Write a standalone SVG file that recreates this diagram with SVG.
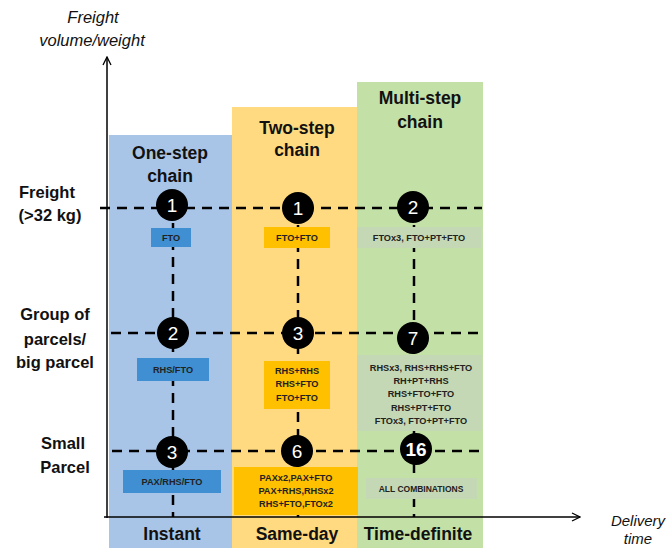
<svg xmlns="http://www.w3.org/2000/svg" width="670" height="548" viewBox="0 0 670 548">
<defs>
<marker id="arr" viewBox="0 0 10 10" refX="9" refY="5" markerWidth="10" markerHeight="10" markerUnits="userSpaceOnUse" orient="auto">
<path d="M1,1 L9,5 L1,9" fill="none" stroke="#000" stroke-width="1.3"/>
</marker>
<style>
text{font-family:"Liberation Sans",Arial,sans-serif;}
.title{font-size:17.5px;font-weight:bold;fill:#111;text-anchor:middle;}
.row{font-size:16.5px;font-weight:bold;fill:#111;text-anchor:middle;}
.ax{font-size:16.5px;font-style:italic;fill:#111;text-anchor:middle;}
.ax2{font-size:15px;font-style:italic;fill:#111;text-anchor:middle;}
.lbl{font-size:9.2px;font-weight:bold;fill:#222;text-anchor:middle;}
.num{font-size:19px;fill:#fff;text-anchor:middle;}
.dash{stroke:#000;stroke-width:2.5;stroke-dasharray:10 7;fill:none;}
.axis{stroke:#000;stroke-width:1.5;fill:none;}
.circ{fill:#000;}
.bb{fill:#3F8FD2;}
.ob{fill:#FFC000;}
.gb{fill:#C5D8B5;}
</style>
</defs>
<rect width="670" height="548" fill="#fff"/>
<g id="columns">
<rect id="col-one" x="109" y="135" width="123" height="413" fill="#A8C5E8"/>
<rect id="col-two" x="232" y="107" width="125" height="441" fill="#FFDA80"/>
<rect id="col-multi" x="357" y="82" width="126" height="466" fill="#C3E0A7"/>
</g>
<g id="titles">
<text class="title" x="170" y="159">One-step</text>
<text class="title" x="170" y="182">chain</text>
<text class="title" x="297" y="134">Two-step</text>
<text class="title" x="297" y="156">chain</text>
<text class="title" x="420" y="104">Multi-step</text>
<text class="title" x="420" y="128">chain</text>
<text class="title" x="172" y="540">Instant</text>
<text class="title" x="297" y="540">Same-day</text>
<text class="title" x="418" y="540">Time-definite</text>
</g>
<g id="row-labels">
<text class="row" x="47" y="198">Freight</text>
<text class="row" x="50" y="221">(&gt;32 kg)</text>
<text class="row" x="55" y="320">Group of</text>
<text class="row" x="55" y="345">parcels/</text>
<text class="row" x="55" y="368">big parcel</text>
<text class="row" x="63" y="449">Small</text>
<text class="row" x="65" y="473">Parcel</text>
</g>
<g id="axis-labels">
<text class="ax" x="93" y="23">Freight</text>
<text class="ax" x="92" y="46">volume/weight</text>
<text class="ax2" x="638" y="526">Delivery</text>
<text class="ax2" x="638" y="544">time</text>
</g>
<g id="connectors">
<line class="dash" x1="100" y1="208" x2="482" y2="208"/>
<line class="dash" x1="111" y1="333" x2="482" y2="333"/>
<line class="dash" x1="112" y1="451" x2="485" y2="451"/>
<line class="dash" x1="173" y1="206" x2="173" y2="517"/>
<line class="dash" x1="298" y1="208" x2="298" y2="517"/>
<line class="dash" x1="414" y1="208" x2="414" y2="517"/>
<line class="axis" x1="107" y1="518" x2="107" y2="57" marker-end="url(#arr)"/>
<line class="axis" x1="104" y1="517" x2="580" y2="517" marker-end="url(#arr)"/>
</g>
<g id="boxes">
<g id="box-fto"><rect class="bb" x="151" y="228" width="40" height="19"/><text class="lbl" x="171" y="241">FTO</text></g>
<g id="box-ftofto"><rect class="ob" x="264" y="227" width="66" height="21"/><text class="lbl" x="297" y="241">FTO+FTO</text></g>
<g id="box-ftox3"><rect class="gb" x="357" y="227" width="124" height="21"/><text class="lbl" x="419" y="241">FTOx3, FTO+PT+FTO</text></g>
<g id="box-rhsfto"><rect class="bb" x="137" y="358" width="72" height="23"/><text class="lbl" x="173" y="373">RHS/FTO</text></g>
<g id="box-rhsrhs"><rect class="ob" x="264" y="361" width="66" height="48"/>
<text class="lbl" x="297" y="374">RHS+RHS</text><text class="lbl" x="297" y="387">RHS+FTO</text><text class="lbl" x="297" y="401">FTO+FTO</text></g>
<g id="box-rhsx3"><rect class="gb" x="357" y="355" width="125" height="76"/>
<text class="lbl" x="421" y="371">RHSx3, RHS+RHS+FTO</text><text class="lbl" x="421" y="384">RH+PT+RHS</text><text class="lbl" x="421" y="397">RHS+FTO+FTO</text><text class="lbl" x="421" y="411">RHS+PT+FTO</text><text class="lbl" x="421" y="424">FTOx3, FTO+PT+FTO</text></g>
<g id="box-pax"><rect class="bb" x="123" y="470" width="98" height="23"/><text class="lbl" x="172" y="485">PAX/RHS/FTO</text></g>
<g id="box-paxx2"><rect class="ob" x="234" y="467" width="124" height="48"/>
<text class="lbl" x="296" y="481">PAXx2,PAX+FTO</text><text class="lbl" x="296" y="494">PAX+RHS,RHSx2</text><text class="lbl" x="296" y="507">RHS+FTO,FTOx2</text></g>
<g id="box-all"><rect class="gb" x="366" y="478" width="111" height="21"/><text class="lbl" x="421" y="492" style="font-size:8.5px">ALL COMBINATIONS</text></g>
</g>
<g id="nodes">
<g id="n-1-1"><circle class="circ" cx="172" cy="205" r="16"/><text class="num" x="172" y="212">1</text></g>
<g id="n-1-2"><circle class="circ" cx="298" cy="208" r="16"/><text class="num" x="298" y="215">1</text></g>
<g id="n-1-3"><circle class="circ" cx="413" cy="207" r="16"/><text class="num" x="413" y="214">2</text></g>
<g id="n-2-1"><circle class="circ" cx="173" cy="333" r="16"/><text class="num" x="173" y="340">2</text></g>
<g id="n-2-2"><circle class="circ" cx="298" cy="333" r="16"/><text class="num" x="298" y="340">3</text></g>
<g id="n-2-3"><circle class="circ" cx="413" cy="338" r="16"/><text class="num" x="413" y="345">7</text></g>
<g id="n-3-1"><circle class="circ" cx="172" cy="452" r="16"/><text class="num" x="172" y="459">3</text></g>
<g id="n-3-2"><circle class="circ" cx="297" cy="451" r="16"/><text class="num" x="297" y="458">6</text></g>
<g id="n-3-3"><circle class="circ" cx="416" cy="449" r="16"/><text class="num" x="416" y="456" style="font-weight:bold">16</text></g>
</g>
</svg>
